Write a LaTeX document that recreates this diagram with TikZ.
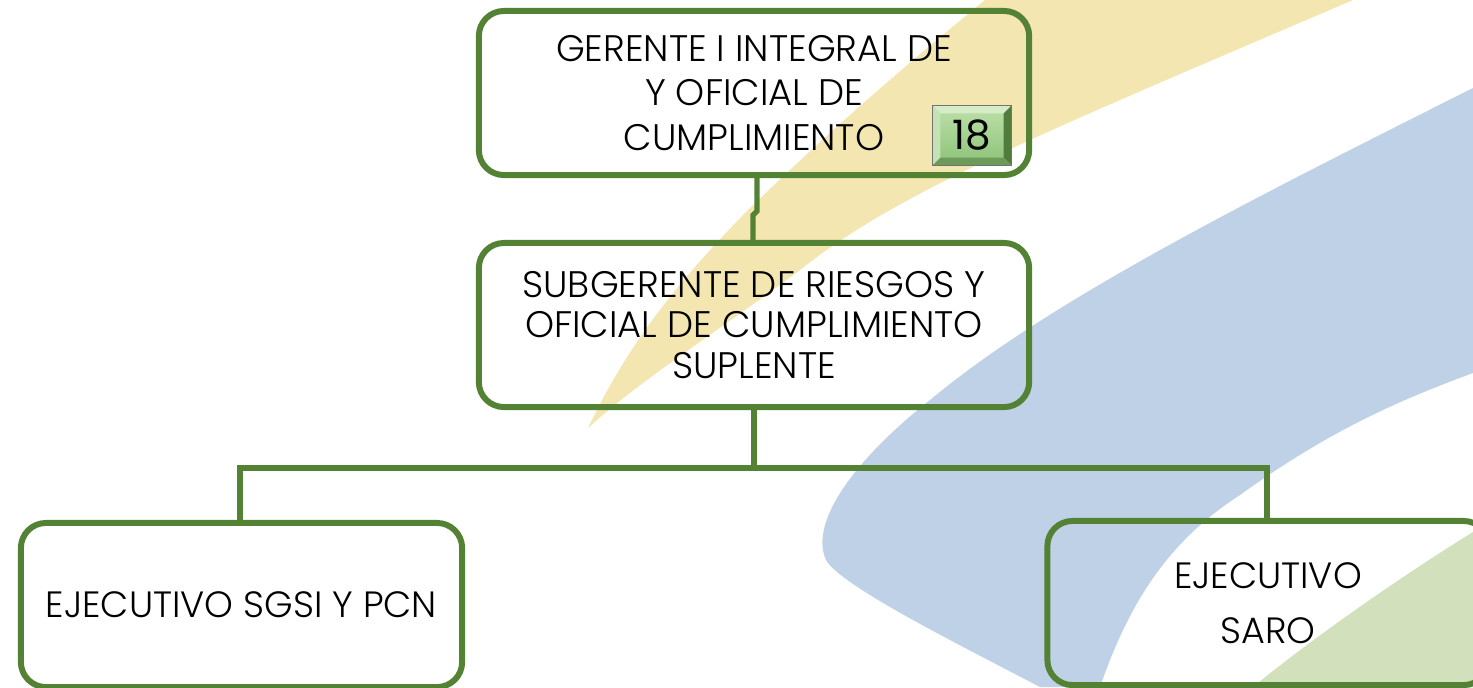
\documentclass[tikz,border=0pt]{standalone}
\usepackage{fontspec}
\setmainfont{Poppins Light}
\newfontfamily\numfont{Poppins}
\definecolor{grn}{RGB}{84,130,53}
\definecolor{yel}{RGB}{243,230,177}
\definecolor{blu}{RGB}{191,209,230}
\definecolor{lgr}{RGB}{211,224,188}
\definecolor{facetop}{RGB}{190,224,170}
\definecolor{facebot}{RGB}{140,194,120}
\definecolor{bevT}{RGB}{214,236,200}
\definecolor{bevL}{RGB}{196,226,180}
\definecolor{bevR}{RGB}{80,125,62}
\definecolor{bevB}{RGB}{108,154,88}
\begin{document}
\begin{tikzpicture}[x=0.01cm,y=-0.01cm,
  box/.style={draw=grn, line width=1.7pt, rounded corners=0.25cm,
    minimum width=5.5cm, minimum height=1.64cm, align=center, inner sep=0pt},
  smallbox/.style={box, minimum width=4.41cm},
  link/.style={draw=grn, line width=1.5pt},
  badge/.style={minimum width=0.78cm, minimum height=0.59cm, inner sep=0pt,
    top color=facetop, bottom color=facebot, draw=black!55, line width=0.3pt}]
\clip (0,0) rectangle (1473,687);
% background shapes
\fill[yel] (588,428) .. controls (630,340) and (680,280) .. (744,214)
  .. controls (830,130) and (900,70) .. (985,0) -- (1353,0)
  .. controls (1050,130) and (900,190) .. (800,270)
  .. controls (720,330) and (640,380) .. (588,428) -- cycle;
\fill[blu] (1473,88) .. controls (1250,200) and (1050,300) .. (930,400)
  .. controls (860,455) and (808,520) .. (826,560)
  .. controls (840,585) and (950,640) .. (1040,687) -- (1100,687)
  .. controls (1130,600) and (1170,540) .. (1240,495)
  .. controls (1330,430) and (1400,400) .. (1473,373) -- cycle;
\fill[lgr] (1473,532) .. controls (1400,577) and (1310,640) .. (1253,687)
  -- (1473,687) -- cycle;
% boxes
\node[box, font=\fontsize{10.5}{12.66}\selectfont] (top) at (754,93)
  {GERENTE I INTEGRAL DE\\Y OFICIAL DE\\CUMPLIMIENTO};
\node[box, font=\fontsize{10.5}{11.4}\selectfont] (sub) at (754,325)
  {SUBGERENTE DE RIESGOS Y\\OFICIAL DE CUMPLIMIENTO\\SUPLENTE};
\node[smallbox, font=\fontsize{10.4}{12}\selectfont] (left) at (241.5,605)
  {EJECUTIVO SGSI Y PCN};
\node[smallbox, font=\fontsize{10.4}{15.6}\selectfont] (right) at (1268,603)
  {EJECUTIVO\\SARO};
% badge
\node[badge] (num) at (972,135.5) {};
\fill[bevT] (num.north west) -- (num.north east) -- ([shift={(-8,8)}]num.north east) -- ([shift={(8,8)}]num.north west) -- cycle;
\fill[bevL] (num.north west) -- ([shift={(8,8)}]num.north west) -- ([shift={(8,-8)}]num.south west) -- (num.south west) -- cycle;
\fill[bevR] (num.north east) -- ([shift={(-8,8)}]num.north east) -- ([shift={(-8,-8)}]num.south east) -- (num.south east) -- cycle;
\fill[bevB] (num.south west) -- ([shift={(8,-8)}]num.south west) -- ([shift={(-8,-8)}]num.south east) -- (num.south east) -- cycle;
\draw[black!55, line width=0.3pt] (num.north west) rectangle (num.south east);
\node[font=\numfont\fontsize{11.5}{12}\selectfont] (numtext) at (num.center) {18};
% connectors
\draw[link] ([xshift=0.03cm]top.south) -- ++(0,33) -- ++(-4,4) -- ([xshift=-0.01cm]sub.north);
\draw[link] (sub.south) -- ++(0,58) coordinate (split);
\draw[link] ([xshift=-0.015cm]left.north) |- (split) -| ([xshift=-0.01cm]right.north);
\end{tikzpicture}
\end{document}
